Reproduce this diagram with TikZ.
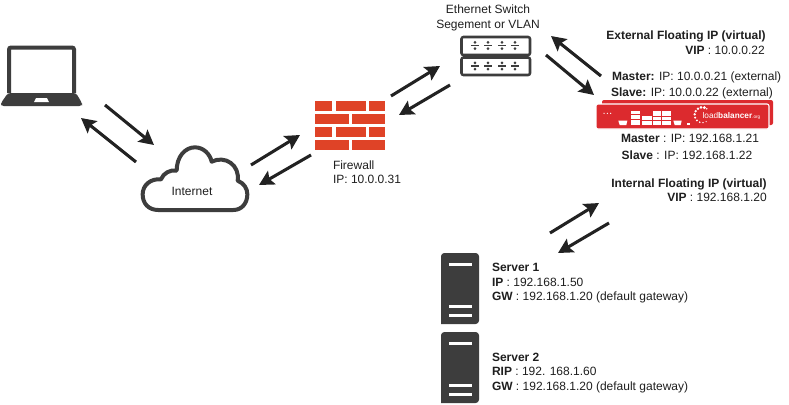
\documentclass[tikz,border=0pt]{standalone}
\usepackage{fontspec}
\setmainfont{Liberation Sans}
\usetikzlibrary{arrows.meta}
\definecolor{ink}{HTML}{222222}
\definecolor{icon}{HTML}{3D3D3D}
\definecolor{brick}{HTML}{DF4327}
\definecolor{lbred}{HTML}{DC2A2E}
\tikzset{
  flow/.style={draw=ink,line width=2.3pt,-{Stealth[length=11pt,width=11.5pt,inset=2pt]},shorten >=0pt},
  lbl/.style={inner sep=0pt,outer sep=0pt,text=black!88,font=\fontsize{9pt}{10.5pt}\selectfont,anchor=base west},
  lblc/.style={lbl,anchor=base},
  brk/.style={fill=brick,draw=none},
  slot/.style={fill=white,draw=none},
  logob/.style={fill=white,draw=none},
  swbox/.style={draw=icon,line width=1.9pt,fill=white,rounded corners=1.5pt},
  srv/.style={fill=icon,draw=none}
}
\newcommand{\swdot}[2]{%
  \fill[icon] (#1-4,#2-0.8) rectangle (#1+4,#2+0.8);
  \fill[icon] (#1,#2-3.2) circle (1.1pt);
  \fill[icon] (#1,#2+3.2) circle (1.1pt);}
\newcommand{\brickbar}[3]{\fill[brk] (#1,#2) rectangle (#3,#2+10);}
\begin{document}
\begin{tikzpicture}[x=0.75pt,y=-0.75pt]
\useasboundingbox (0,0) rectangle (789,404);
\fill[white] (0,0) rectangle (789,404);

% laptop
\draw[icon,line width=3pt,rounded corners=1.5pt,fill=white] (9,93) -- (9,47.5) -- (74,47.5) -- (74,93);
\fill[icon,rounded corners=2pt] (8,93) -- (76,93) -- (82,103) -- (82,106) -- (1,106) -- (1,103) -- cycle;
\fill[white] (36,98) -- (47,98) -- (49,102) -- (34,102) -- cycle;

% cloud
\begin{scope}[shift={(130,130)},x=0.25pt,y=-0.25pt]
\draw[icon,line width=3pt,line join=round] (85,240)
  .. controls (55,240) and (38,220) .. (38,193)
  .. controls (38,165) and (62,145) .. (93,148)
  .. controls (100,130) and (120,118) .. (140,122)
  .. controls (140,80) and (165,52) .. (195,52)
  .. controls (220,52) and (240,72) .. (245,95)
  .. controls (285,75) and (330,105) .. (323,152)
  .. controls (342,160) and (352,175) .. (352,193)
  .. controls (352,220) and (335,240) .. (310,240)
  -- cycle;
\end{scope}

% firewall
\brickbar{315}{101}{332}\brickbar{335.5}{101}{365.5}\brickbar{369}{101}{385}
\brickbar{315}{114}{349}\brickbar{352}{114}{385}
\brickbar{315}{127}{332}\brickbar{335.5}{127}{365.5}\brickbar{369}{127}{385}
\brickbar{315}{140}{349}\brickbar{352}{140}{385}

% switch
\draw[swbox] (461.5,37) rectangle (530,55);
\draw[swbox] (461.5,57.5) rectangle (530,75);
\foreach \x in {475,488,502,515}{\swdot{\x}{45.5}\swdot{\x}{66}}

% load balancer
\fill[lbred,rounded corners=1.5pt] (602,100) rectangle (773,125);
\draw[white,line width=0.8pt,fill=lbred,rounded corners=1.5pt] (596,104) rectangle (769,129);
\begin{scope}[shift={(570,80)},x=0.25pt,y=-0.25pt]
\foreach \x in {102,112,122}{\fill[white] (\x,100) circle (0.5pt);}
\fill[logob] (145,122) -- (172,122) -- (169,135) -- (149,135) -- cycle;
\foreach \a/\b in {92/102,105/118,120/135}{\fill[logob] (183,\a) rectangle (210,\b);}
\foreach \a/\b in {108/120,122/135}{\fill[logob] (217,\a) rectangle (245,\b);}
\foreach \a/\b in {92/108,110/120,122/135}{\fill[logob] (248,\a) rectangle (273,\b);\fill[logob] (276,\a) rectangle (302,\b);}
\fill[logob] (310,122) -- (335,122) -- (332,135) -- (314,135) -- cycle;
\fill[logob] (352,130) rectangle (360,134);
\foreach \t/\s in {60/0.5,85/0.6,110/0.7,135/0.8,160/0.9,185/1.0,210/1.0,235/1.0,260/1.1,285/1.2,305/0.6}{\fill[white] (397,105)+(\t:23) circle (\s pt);}
\node[inner sep=0pt,text=white,anchor=base west,font=\fontsize{6.2pt}{7pt}\selectfont] (lbname) at (397,116) {load\textbf{balancer}{\fontsize{3.5pt}{4pt}\selectfont .org}};
\end{scope}

% servers
\fill[srv,rounded corners=2.5pt] (441,324) -- (441,253) -- (479,253) -- (479,324) [sharp corners] -- cycle;
\fill[slot] (449,263) rectangle (472,266);
\fill[slot] (449,304.5) rectangle (472,307.5);
\fill[slot] (449,313.5) rectangle (472,316.5);
\fill[srv,rounded corners=2.5pt] (441,403) -- (441,332) -- (479,332) -- (479,403) [sharp corners] -- cycle;
\fill[slot] (449,342) rectangle (472,345);
\fill[slot] (449,383.5) rectangle (472,386.5);
\fill[slot] (449,392.5) rectangle (472,395.5);

% texts
\node[lblc] (tinet) at (192,195) {Internet};
\node[lbl] (tfw1) at (333,169) {Firewall};
\node[lbl] (tfw2) at (333,183) {IP: 10.0.0.31};
\node[lblc] (tsw1) at (488,13.5) {Ethernet Switch};
\node[lblc] (tsw2) at (488,28) {Segement or VLAN};
\node[lblc] (text1) at (686,39.5) {\textbf{External Floating IP (virtual)}};
\node[lblc] (text2) at (725,54) {\textbf{VIP} : 10.0.0.22};
\node[lbl] (tm1) at (612,80.5) {\textbf{Master:} IP: 10.0.0.21 (external)};
\node[lbl] (ts1) at (611,96) {\textbf{Slave:} IP: 10.0.0.22 (external)};
\node[lblc] (tm2) at (690,142.5) {\textbf{Master} : IP: 192.168.1.21};
\node[lblc] (ts2) at (687,159) {\textbf{Slave} : IP: 192.168.1.22};
\node[lblc] (tint1) at (689,187) {\textbf{Internal Floating IP (virtual)}};
\node[lblc] (tint2) at (717,201) {\textbf{VIP} : 192.168.1.20};
\node[lbl] (ts11) at (492,271) {\textbf{Server 1}};
\node[lbl] (ts12) at (492,286) {\textbf{IP} : 192.168.1.50};
\node[lbl] (ts13) at (492,300) {\textbf{GW} : 192.168.1.20 (default gateway)};
\node[lbl] (ts21) at (492,361) {\textbf{Server 2}};
\node[lbl] (ts22) at (492,375) {\textbf{RIP} : 192. 168.1.60};
\node[lbl] (ts23) at (492,390) {\textbf{GW} : 192.168.1.20 (default gateway)};

% connector ends
\coordinate (a1s) at (105,105); \coordinate (a1e) at (154,145);
\coordinate (a2s) at (136,162); \coordinate (a2e) at (81,118);
\coordinate (b1s) at (251,165); \coordinate (b1e) at (300,135);
\coordinate (b2s) at (311,155); \coordinate (b2e) at (259,185);
\coordinate (c1s) at (391,96);  \coordinate (c1e) at (440,66);
\coordinate (c2s) at (450,85);  \coordinate (c2e) at (399,115);
\coordinate (d1s) at (601,76);  \coordinate (d1e) at (551,36);
\coordinate (d2s) at (546,55);  \coordinate (d2e) at (594,95);
\coordinate (e1s) at (550,233); \coordinate (e1e) at (599,203);
\coordinate (e2s) at (609,223); \coordinate (e2e) at (558,253);
\foreach \n in {a1,a2,b1,b2,c1,c2,d1,d2,e1,e2}{\draw[flow] (\n s) -- (\n e);}
\end{tikzpicture}
\end{document}
